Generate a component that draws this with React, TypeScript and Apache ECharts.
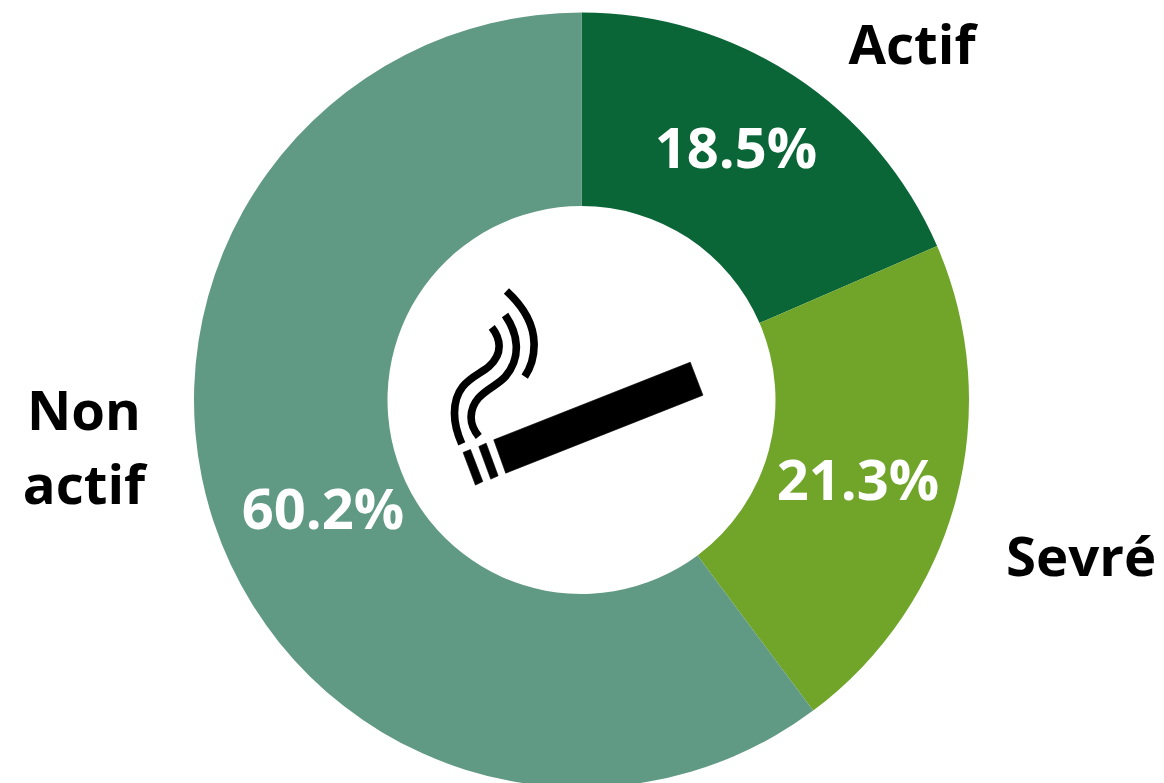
import React, { useEffect, useRef } from "react";
import * as echarts from "echarts";

const categories = ["Actif", "Sevré", "Non actif"];
const values = [18.5, 21.3, 60.2];
const colors = ["#0a6537", "#70a529", "#619a84"];
const nameLabels = ["Actif", "Sevré", "Non\nactif"];
const namePositions = [[912, 43], [1081, 555], [84, 446]];
const valuePositions = [[736, 146], [858, 478], [323, 507]];

const CIG_D =
  "M190 510L780 277L818 376L226 610Z" +
  "M98 548L120 539L157 635L135 646Z" +
  "M145 530L167 520L203 618L181 628Z";
const SMOKE_D =
  "M184 172C210 205 220 250 175 290C140 320 72 335 72 430C72 465 82 495 94 522" +
  "M224 135C262 190 275 260 225 320C195 355 125 370 122 440C121 465 133 485 145 500" +
  "M228 63C285 115 310 170 311 220C312 260 300 295 283 320";

echarts.graphic.registerShape("cigarette", echarts.graphic.extendPath(CIG_D, {}) as any);
echarts.graphic.registerShape("smoke", echarts.graphic.extendPath(SMOKE_D, {}) as any);

const FONT = "'Open Sans'";

export default function App() {
  const ref = useRef<HTMLDivElement>(null);
  useEffect(() => {
    document.body.style.margin = "0";
    const chart = echarts.init(ref.current!, null, { renderer: "svg" });
    const data = categories.map((name, i) => ({ name, value: values[i], itemStyle: { color: colors[i] } }));
    const base = {
      type: "pie",
      center: [581.5, 400],
      radius: [194, 387.5],
      startAngle: 90,
      clockwise: true,
      silent: true,
      labelLine: { show: false },
    };
    chart.setOption({
      animation: false,
      backgroundColor: "#ffffff",
      series: [
        {
          ...base,
          data,
          label: {
            show: true,
            position: "inside",
            overflow: "none",
            formatter: (p: any) => `${p.value}%`,
            color: "#ffffff",
            fontFamily: FONT,
            fontWeight: "bold",
            fontSize: 56,
          },
          labelLayout: (p: any) => ({
            x: valuePositions[p.dataIndex][0],
            y: valuePositions[p.dataIndex][1],
            align: "center",
            verticalAlign: "middle",
          }),
        },
        {
          ...base,
          z: 5,
          data: categories.map((name, i) => ({ name, value: values[i], itemStyle: { color: "transparent" } })),
          label: {
            show: true,
            position: "outside",
            overflow: "none",
            formatter: (p: any) => nameLabels[p.dataIndex],
            color: "#000000",
            fontFamily: FONT,
            fontWeight: "bold",
            fontSize: 54.5,
            lineHeight: 74,
          },
          labelLayout: (p: any) => ({
            x: namePositions[p.dataIndex][0],
            y: namePositions[p.dataIndex][1],
            align: "center",
            verticalAlign: "middle",
          }),
        },
      ],
      graphic: [
        {
          type: "cigarette",
          x: 430.5,
          y: 270,
          scaleX: 1 / 3,
          scaleY: 1 / 3,
          style: { fill: "#000000", stroke: "#000000", lineWidth: 2 },
          z: 10,
        },
        {
          type: "smoke",
          x: 430.5,
          y: 270,
          scaleX: 1 / 3,
          scaleY: 1 / 3,
          style: { fill: null, stroke: "#000000", lineWidth: 23 },
          z: 10,
        },
      ],
    });
    return () => chart.dispose();
  }, []);
  return <div ref={ref} style={{ width: 1164, height: 783 }} />;
}
